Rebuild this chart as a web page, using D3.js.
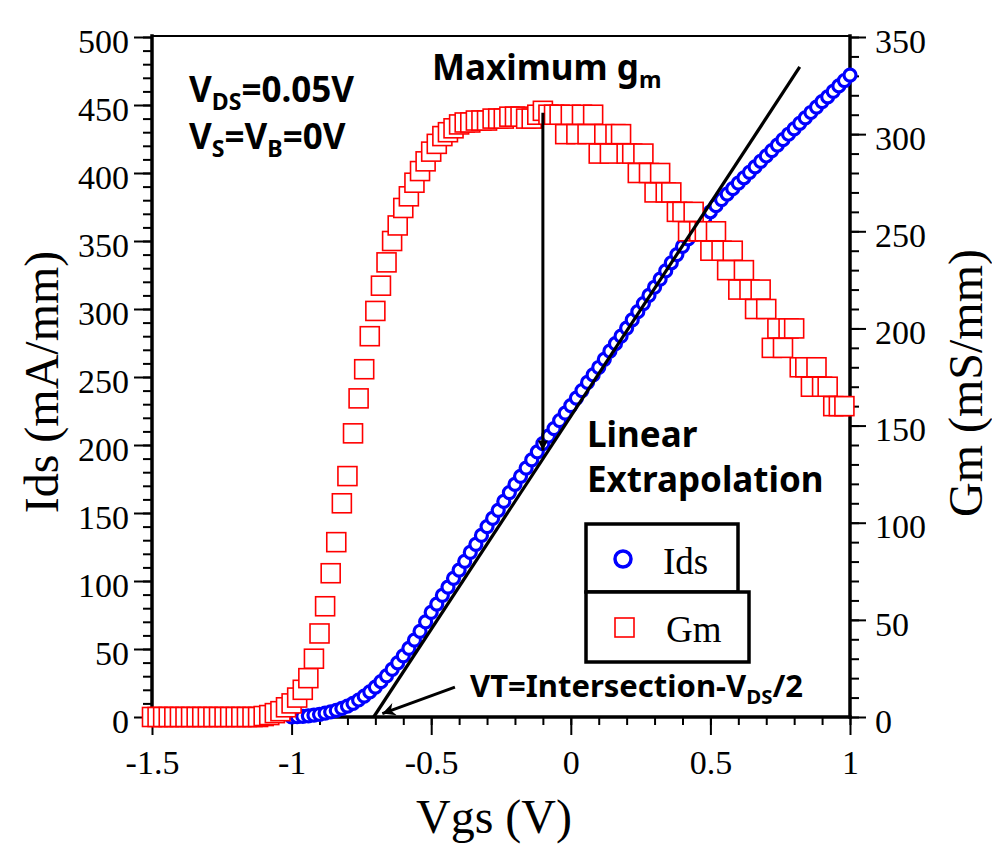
<!DOCTYPE html>
<html>
<head>
<meta charset="utf-8">
<script src="https://cdn.jsdelivr.net/npm/d3@7"></script>
<style>
body { margin: 0; background: #fff; }
svg { display: block; }
</style>
</head>
<body>
<svg id="chart" width="992" height="863"></svg>
<script>
// sweep: both curves sampled every 20 mV
const vgsStep = 0.02
const idsStart = -1.0   // Ids sweep -1.0 .. 1.0 V
const gmStart = -1.5    // Gm sweep -1.5 .. 0.98 V

// Ids (mA/mm), left axis
const idsValues = [
    0, 0.2, 0.5, 0.9, 1.4, 2, 2.8, 3.7, 4.8, 6.3,
    8, 10, 12.5, 15.3, 18.5, 22, 26, 30.3, 35, 39.8,
    45, 50.5, 56.5, 63, 70, 77, 83, 89.5, 95.5, 102,
    108, 114.5, 121, 127, 133.5, 140, 146, 152, 158.5, 165,
    171, 177, 183, 189, 195, 201, 206.5, 212, 218, 223.5,
    229, 234.5, 240, 246, 251.5, 257, 263, 269, 274.5, 280,
    286, 292, 298, 304, 310, 316, 322, 328, 334, 340,
    346, 351.5, 357, 362, 367, 371.5, 376, 380.5, 384.5, 388.5,
    392.5, 396.5, 400.5, 404.5, 408.5, 412.5, 416.5, 420.5, 424.5, 428.5,
    432.5, 436.5, 440.5, 444.5, 448.5, 452.5, 456, 460, 464, 468,
    472
]

// Gm (mS/mm), right axis
const gmValues = [
    0, 0, 0, 0, 0, 0, 0, 0, 0, 0,
    0, 0, 0, 0, 0, 0, 0, 0, 0, 0,
    0.5, 1, 2, 3, 5, 7, 10, 14, 20, 30,
    43, 57, 74, 90, 110, 124, 146, 164, 179, 196,
    209, 222, 234, 245, 253, 262, 268, 275, 281, 286,
    291, 295, 299, 301, 303, 305, 306, 306, 307, 307,
    307, 308, 308, 308, 309, 309, 309, 308, 308, 310,
    312, 310, 310, 310, 300, 310, 300, 310, 300, 310,
    290, 300, 290, 300, 300, 290, 290, 280, 290, 280,
    270, 280, 270, 270, 260, 260, 250, 260, 250, 250,
    240, 250, 240, 230, 240, 220, 230, 220, 210, 220,
    210, 190, 200, 190, 200, 200, 180, 180, 170, 180,
    170, 170, 160, 160, 160
]

const xTicks = [-1.5, -1, -0.5, 0, 0.5, 1]
const xTickLabels = ['-1.5', '-1', '-0.5', '0', '0.5', '1']
const idsTicks = [0, 50, 100, 150, 200, 250, 300, 350, 400, 450, 500]
const gmTicks = [0, 50, 100, 150, 200, 250, 300, 350]

// annotation lines, in data units
const extrapLine = [[-0.706, 0], [0.82, 478]]      // (Vgs, Ids)
const maxGm = {vgs: -0.1, gm: 311, ids: 196}
const vtArrow = [[-0.415, 22], [-0.675, 2.5]]       // (Vgs, Ids) tail -> tip

const serif = "'Liberation Serif', 'Times New Roman', serif"
const sans = "'Noto Sans', 'Open Sans', sans-serif"

const svg = d3.select('#chart')
const x = d3.scaleLinear().domain([-1.5, 1]).range([152, 850])
const yL = d3.scaleLinear().domain([0, 500]).range([717, 37])
const yR = d3.scaleLinear().domain([0, 350]).range([717, 37])

const defs = svg.append('defs')
defs.append('marker').attr('id', 'headSmall')
    .attr('viewBox', '0 0 10 10').attr('refX', 10).attr('refY', 5)
    .attr('markerUnits', 'userSpaceOnUse')
    .attr('markerWidth', 12).attr('markerHeight', 10).attr('orient', 'auto')
    .append('path').attr('d', 'M0,0 L10,5 L0,10 Z').attr('fill', '#000')
defs.append('marker').attr('id', 'headBig')
    .attr('viewBox', '0 0 10 10').attr('refX', 10).attr('refY', 5)
    .attr('markerUnits', 'userSpaceOnUse')
    .attr('markerWidth', 18).attr('markerHeight', 13).attr('orient', 'auto')
    .append('path').attr('d', 'M0,0 L10,5 L0,10 L3,5 Z').attr('fill', '#000')

function styleAxis(g) {
    g.select('.domain').remove()
    g.attr('font-family', serif).attr('font-size', 34)
    g.selectAll('line').attr('stroke', '#000').attr('stroke-width', 2)
    g.selectAll('text').attr('fill', '#000')
}

// left axis
svg.append('g').attr('transform', 'translate(152,0)')
    .call(d3.axisLeft(yL).tickValues(d3.range(0, 501, 10)).tickSize(9).tickFormat(''))
    .call(styleAxis)
svg.append('g').attr('transform', 'translate(152,0)')
    .call(d3.axisLeft(yL).tickValues(idsTicks).tickSize(18).tickPadding(5))
    .call(styleAxis)
    .selectAll('text').attr('dy', '0.36em').attr('y', 3)

// right axis
svg.append('g').attr('transform', 'translate(850,0)')
    .call(d3.axisRight(yR).tickValues(d3.range(0, 351, 10)).tickSize(9).tickFormat(''))
    .call(styleAxis)
svg.append('g').attr('transform', 'translate(850,0)')
    .call(d3.axisRight(yR).tickValues(gmTicks).tickSize(16).tickPadding(9))
    .call(styleAxis)
    .selectAll('text').attr('dy', '0.36em').attr('y', 3)

// bottom axis
svg.append('g').attr('transform', 'translate(0,717)')
    .call(d3.axisBottom(x).tickValues(d3.range(-15, 11).map(d => d / 10)).tickSize(8).tickFormat(''))
    .call(styleAxis)
svg.append('g').attr('transform', 'translate(0,717)')
    .call(d3.axisBottom(x).tickValues(xTicks).tickSize(18).tickFormat((d, i) => xTickLabels[i]))
    .call(styleAxis)
    .selectAll('text').attr('dy', 0).attr('y', 57)

// frame
const frame = svg.append('g').attr('stroke', '#000').attr('stroke-linecap', 'square')
frame.append('line').attr('x1', 152).attr('x2', 850).attr('y1', 36).attr('y2', 36).attr('stroke-width', 2)
frame.append('line').attr('x1', 152).attr('x2', 152).attr('y1', 36).attr('y2', 717).attr('stroke-width', 3.5)
frame.append('line').attr('x1', 850).attr('x2', 850).attr('y1', 36).attr('y2', 717).attr('stroke-width', 3.5)
frame.append('line').attr('x1', 152).attr('x2', 850).attr('y1', 717).attr('y2', 717).attr('stroke-width', 3.5)

// axis titles
svg.append('text').attr('transform', 'translate(58,382) rotate(-90)')
    .attr('text-anchor', 'middle').attr('font-family', serif).attr('font-size', 48)
    .text('Ids (mA/mm)')
svg.append('text').attr('transform', 'translate(982,383) rotate(-90)')
    .attr('text-anchor', 'middle').attr('font-family', serif).attr('font-size', 48)
    .text('Gm (mS/mm)')
svg.append('text').attr('x', 494).attr('y', 833)
    .attr('text-anchor', 'middle').attr('font-family', serif).attr('font-size', 48)
    .text('Vgs (V)')

// Ids circles
svg.append('g').selectAll('circle')
    .data(idsValues)
    .join('circle')
    .attr('cx', (d, i) => x(idsStart + i * vgsStep))
    .attr('cy', d => yL(d))
    .attr('r', 6)
    .attr('fill', '#fff')
    .attr('stroke', '#0000ff')
    .attr('stroke-width', 3.2)

// Gm squares
const sq = 19
svg.append('g').selectAll('rect')
    .data(gmValues)
    .join('rect')
    .attr('x', (d, i) => x(gmStart + i * vgsStep) - sq / 2)
    .attr('y', d => yR(d) - sq / 2)
    .attr('width', sq)
    .attr('height', sq)
    .attr('fill', '#fff')
    .attr('stroke', '#ff0000')
    .attr('stroke-width', 1.6)

// linear extrapolation
svg.append('line')
    .attr('x1', x(extrapLine[0][0])).attr('y1', yL(extrapLine[0][1]))
    .attr('x2', x(extrapLine[1][0])).attr('y2', yL(extrapLine[1][1]))
    .attr('stroke', '#000').attr('stroke-width', 3.2)

// maximum gm drop line
svg.append('line')
    .attr('x1', x(maxGm.vgs)).attr('y1', yR(maxGm.gm))
    .attr('x2', x(maxGm.vgs)).attr('y2', yL(maxGm.ids))
    .attr('stroke', '#000').attr('stroke-width', 3)
    .attr('marker-end', 'url(#headSmall)')

// VT arrow
svg.append('line')
    .attr('x1', x(vtArrow[0][0])).attr('y1', yL(vtArrow[0][1]))
    .attr('x2', x(vtArrow[1][0])).attr('y2', yL(vtArrow[1][1]))
    .attr('stroke', '#000').attr('stroke-width', 3)
    .attr('marker-end', 'url(#headBig)')

// annotations
function label(px, py, size, parts) {
    const t = svg.append('text').attr('x', px).attr('y', py)
        .attr('font-family', sans).attr('font-weight', 700).attr('font-size', size)
    let shift = 0
    parts.forEach(([s, sub]) => {
        const want = sub ? size * 0.22 : 0
        t.append('tspan')
            .attr('dy', want - shift)
            .attr('font-size', sub ? size * 0.66 : size)
            .text(s)
        shift = want
    })
}
label(189, 102, 35, [['V'], ['DS', 1], ['=0.05V']])
label(189, 149, 35, [['V'], ['S', 1], ['=V'], ['B', 1], ['=0V']])
label(432, 80, 35, [['Maximum g'], ['m', 1]])
label(587, 447, 35, [['Linear']])
label(587, 492, 35, [['Extrapolation']])
label(470, 697, 31, [['VT=Intersection-V'], ['DS', 1], ['/2']])

// legend
const legend = svg.append('g')
legend.append('rect').attr('x', 586).attr('y', 524).attr('width', 152).attr('height', 68)
    .attr('fill', '#fff').attr('stroke', '#000').attr('stroke-width', 3.5)
legend.append('rect').attr('x', 586).attr('y', 592).attr('width', 163).attr('height', 70)
    .attr('fill', '#fff').attr('stroke', '#000').attr('stroke-width', 3.5)
legend.append('circle').attr('cx', 623).attr('cy', 559).attr('r', 8)
    .attr('fill', '#fff').attr('stroke', '#0000ff').attr('stroke-width', 3.5)
legend.append('rect').attr('x', 615).attr('y', 618).attr('width', sq).attr('height', sq)
    .attr('fill', '#fff').attr('stroke', '#ff0000').attr('stroke-width', 1.6)
legend.append('text').attr('x', 663).attr('y', 574)
    .attr('font-family', serif).attr('font-size', 37).text('Ids')
legend.append('text').attr('x', 666).attr('y', 642)
    .attr('font-family', serif).attr('font-size', 37).text('Gm')
</script>
</body>
</html>
